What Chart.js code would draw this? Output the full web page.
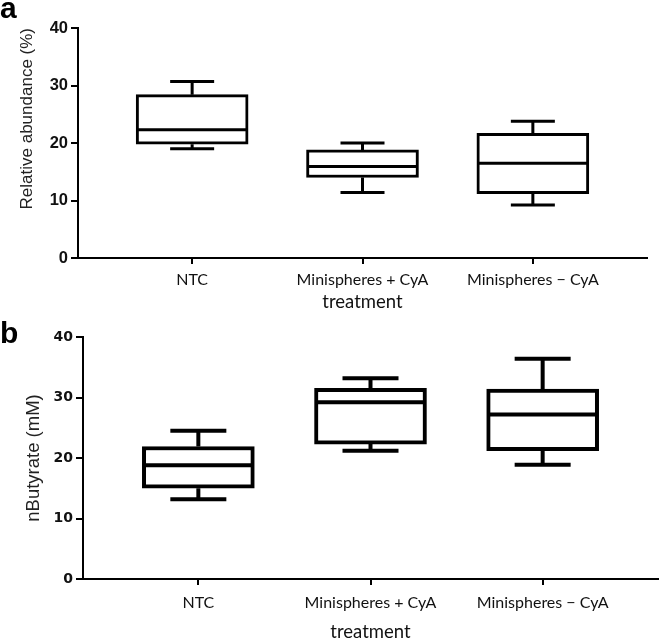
<!DOCTYPE html>
<html>
<head>
<meta charset="utf-8">
<script src="https://cdn.jsdelivr.net/npm/chart.js@4.4.1/dist/chart.umd.min.js"></script>
<style>
  body { margin: 0; background: #fff; }
  .wrap { position: relative; width: 660px; height: 643px; overflow: hidden; background: #fff; }
  canvas { position: absolute; left: 0; }
  .tag { position: absolute; left: 0; font: bold 30px "Liberation Sans", Arial, sans-serif; line-height: 30px; color: #000; }
</style>
</head>
<body>
<div class="wrap">
  <canvas id="abundanceChart" width="660" height="318" style="top:0"></canvas>
  <canvas id="butyrateChart" width="660" height="325" style="top:318px"></canvas>
  <div class="tag" style="top:-7px">a</div>
  <div class="tag" style="top:318px">b</div>
</div>
<script>
const categories = ['NTC', 'Minispheres + CyA', 'Minispheres \u2212 CyA'];
const yTicks = [0, 10, 20, 30, 40];

// panel a: relative abundance (%)
const abundanceMin = [19.0, 11.4, 9.2];
const abundanceQ1 = [19.8, 14.0, 11.2];
const abundanceMedian = [22.3, 15.9, 16.5];
const abundanceQ3 = [28.4, 18.8, 21.7];
const abundanceMax = [30.7, 20.0, 23.8];

// panel b: nButyrate (mM)
const butyrateMin = [13.2, 21.2, 18.9];
const butyrateQ1 = [15.0, 22.3, 21.2];
const butyrateMedian = [18.8, 29.2, 27.2];
const butyrateQ3 = [21.9, 31.5, 31.4];
const butyrateMax = [24.5, 33.2, 36.4];

function boxPanel(id, stats, look) {
  // median line + whiskers, drawn on top of the floating bars
  const whiskers = {
    id: 'whiskers',
    afterDatasetsDraw(chart) {
      const { ctx, scales: { x, y } } = chart;
      ctx.save();
      ctx.strokeStyle = '#000';
      ctx.lineWidth = look.line;
      ctx.lineCap = 'butt';
      stats.median.forEach((m, i) => {
        const cx = x.getPixelForValue(i + 1);
        const half = look.box / 2 - look.line / 2;
        const cap = look.cap / 2;
        const yMed = y.getPixelForValue(m);
        const yQ1 = y.getPixelForValue(stats.q1[i]);
        const yQ3 = y.getPixelForValue(stats.q3[i]);
        const yLo = y.getPixelForValue(stats.min[i]);
        const yHi = y.getPixelForValue(stats.max[i]);
        ctx.beginPath();
        ctx.moveTo(cx - half, yMed); ctx.lineTo(cx + half, yMed);
        ctx.moveTo(cx, yQ3); ctx.lineTo(cx, yHi);
        ctx.moveTo(cx - cap, yHi); ctx.lineTo(cx + cap, yHi);
        ctx.moveTo(cx, yQ1); ctx.lineTo(cx, yLo);
        ctx.moveTo(cx - cap, yLo); ctx.lineTo(cx + cap, yLo);
        ctx.stroke();
      });
      ctx.restore();
    }
  };

  return new Chart(document.getElementById(id), {
    type: 'bar',
    data: {
      datasets: [{
        data: categories.map((c, i) => ({ x: i + 1, y: [stats.q1[i], stats.q3[i]] })),
        backgroundColor: '#fff',
        borderColor: '#000',
        borderWidth: look.line,
        borderSkipped: false,
        barThickness: look.box
      }]
    },
    options: {
      responsive: false,
      animation: false,
      layout: { padding: { top: look.top, right: look.right, left: 0, bottom: 0 } },
      plugins: { legend: { display: false }, tooltip: { enabled: false } },
      scales: {
        x: {
          type: 'linear',
          min: 0.33,
          max: 3.67,
          offset: false,
          afterBuildTicks: s => { s.ticks = categories.map((c, i) => ({ value: i + 1 })); },
          afterFit: s => { s.height = look.xHeight; },
          grid: { offset: false, drawOnChartArea: false, tickLength: 6, color: '#000', lineWidth: 2 },
          border: { color: '#000', width: 2 },
          ticks: {
            callback: v => categories[Math.round(v) - 1],
            font: { family: 'Lato', size: 16 },
            color: '#111',
            padding: look.xPad,
            maxRotation: 0,
            autoSkip: false
          },
          title: {
            display: true,
            text: 'treatment',
            font: { family: 'Lato', size: 18.5 },
            color: '#111',
            padding: { top: 0, bottom: look.titlePad }
          }
        },
        y: {
          min: 0,
          max: 40,
          afterBuildTicks: s => { s.ticks = yTicks.map(v => ({ value: v })); },
          afterFit: s => { s.width = look.yWidth; },
          grid: { drawOnChartArea: false, tickLength: 7, color: '#000', lineWidth: 2 },
          border: { color: '#000', width: 2 },
          ticks: { font: look.tickFont, color: '#111', padding: 3 },
          title: {
            display: true,
            text: look.yTitle,
            align: look.yAlign,
            font: { family: 'Liberation Sans', size: look.yTitleSize },
            color: '#222',
            padding: { top: look.yTitlePad, bottom: 0 }
          }
        }
      }
    },
    plugins: [whiskers]
  });
}

boxPanel('abundanceChart',
  { min: abundanceMin, q1: abundanceQ1, median: abundanceMedian, q3: abundanceQ3, max: abundanceMax },
  {
    line: 3, box: 112, cap: 44, top: 28, right: 13, xHeight: 60, yWidth: 78, xPad: 6, titlePad: 5,
    tickFont: { family: '"Liberation Sans Narrow", "Liberation Sans"', size: 16.5, weight: 'bold' },
    yTitle: 'Relative abundance (%)', yAlign: 'end', yTitleSize: 17, yTitlePad: 17
  });

boxPanel('butyrateChart',
  { min: butyrateMin, q1: butyrateQ1, median: butyrateMedian, q3: butyrateQ3, max: butyrateMax },
  {
    line: 4, box: 112, cap: 56, top: 19, right: 2, xHeight: 64, yWidth: 83, xPad: 8, titlePad: 0,
    tickFont: { family: 'DejaVu Sans', size: 14, weight: 'bold' },
    yTitle: 'nButyrate (mM)', yAlign: 'center', yTitleSize: 18.5, yTitlePad: 23
  });
</script>
</body>
</html>
